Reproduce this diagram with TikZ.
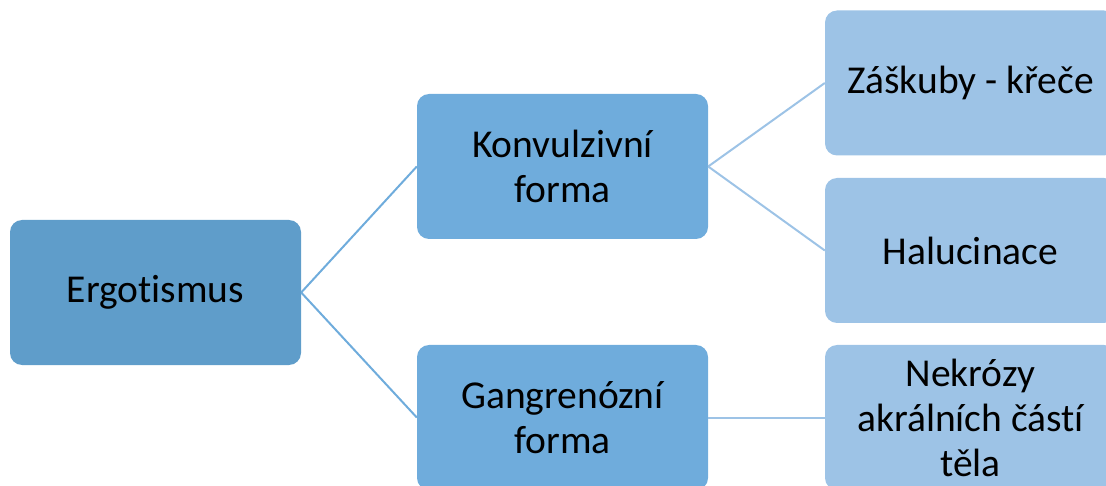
\documentclass[tikz,border=0pt]{standalone}
\usepackage{fontspec}
\setmainfont{Carlito}[Ligatures=NoCommon]
\definecolor{rootfill}{HTML}{5F9DCA}
\definecolor{midfill}{HTML}{6FACDC}
\definecolor{leaffill}{HTML}{9DC3E6}
\begin{document}
\begin{tikzpicture}[x=1pt,y=-1pt,
  box/.style={rounded corners=12pt, minimum width=291pt, minimum height=145pt,
    inner sep=0pt, align=center, text=black,
    font=\fontsize{39.5}{45}\selectfont},
  rootbox/.style={box, fill=rootfill},
  midbox/.style={box, fill=midfill},
  leafbox/.style={box, fill=leaffill},
  link/.style={line width=2pt, draw=midfill},
  leaflink/.style={line width=2pt, draw=leaffill}]
\useasboundingbox (0,0) rectangle (1106,486);
\clip (0,0) rectangle (1106,486);
% tree nodes
\node[rootbox] (erg) at (155.5,292.5) {Ergotismus};
\node[midbox] (konv) at (562.5,166.5) {Konvulzivní\\forma};
\node[midbox] (gang) at (562.5,417.5) {Gangrenózní\\forma};
\node[leafbox] (zas) at (970.5,83) {Záškuby - křeče};
\node[leafbox] (hal) at (970.5,250.5) {Halucinace};
\node[leafbox] (nek) at (970.5,417.5) {Nekrózy\\akrálních částí\\těla};
% connectors
\draw[link] (erg.east) -- (konv.west);
\draw[link] (erg.east) -- (gang.west);
\draw[leaflink] (konv.east) -- (zas.west);
\draw[leaflink] (konv.east) -- (hal.west);
\draw[leaflink] (gang.east) -- (nek.west);
\end{tikzpicture}
\end{document}
